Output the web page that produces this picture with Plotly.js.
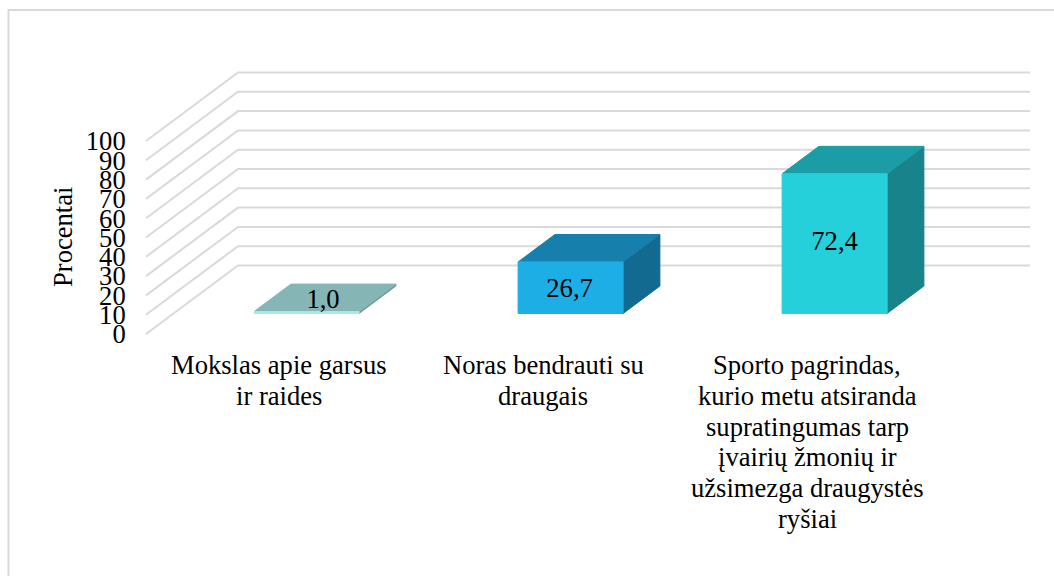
<!DOCTYPE html>
<html>
<head>
<meta charset="utf-8">
<script src="https://cdn.plot.ly/plotly-3.0.1.min.js"></script>
<style>html,body{margin:0;padding:0;background:#fff}#chart{width:1054px;height:576px}</style>
</head>
<body>
<div id="chart"></div>
<script>
const categoryLines = [
  ["Mokslas apie garsus", "ir raides"],
  ["Noras bendrauti su", "draugais"],
  ["Sporto pagrindas,", "kurio metu atsiranda", "supratingumas tarp", "įvairių žmonių ir", "užsimezga draugystės", "ryšiai"]
];
const values = [1.0, 26.7, 72.4];
const valueLabels = ["1,0", "26,7", "72,4"];
const frontColors = ["#a5e8e8", "#1eaee6", "#26d0da"];
const topColors = ["#85b5b5", "#167fac", "#1c9da5"];
const sideColors = ["#6f9c9c", "#126a90", "#18838a"];
const yTicks = [0, 10, 20, 30, 40, 50, 60, 70, 80, 90, 100];

const pxPerCat = 264, pxPerVal = 1.93;
const depthX = 92 / pxPerCat, depthY = 68.5 / pxPerVal;
const barWidth = 105 / pxPerCat, barFront = 0.3, barBack = 0.7, barShift = 1 / pxPerCat;
const labelDepth = [0.5, 0.3, 0.3];
const labelNudgeX = [-2, -1, 0], labelNudgeY = [-3, -3, 0];
const serif = "Liberation Serif, Times New Roman, serif";
const fs = 26.6;

const px = (x, d) => x + d * depthX;
const py = (v, d) => v + d * depthY;

function face(points, color) {
  return {
    type: "scatter", mode: "lines", fill: "toself", fillcolor: color,
    x: points.map(p => px(p[0], p[2])),
    y: points.map(p => py(p[1], p[2])),
    line: {color: color, width: 1},
    cliponaxis: false, hoverinfo: "skip", showlegend: false
  };
}

const traces = [];
yTicks.forEach(v => traces.push({
  type: "scatter", mode: "lines",
  x: [px(0, 0), px(0, 1), px(3, 1)],
  y: [py(v, 0), py(v, 1), py(v, 1)],
  line: {color: "#d9d9d9", width: 2},
  cliponaxis: false, hoverinfo: "skip", showlegend: false
}));
values.forEach((v, i) => {
  const l = i + 0.5 + barShift - barWidth / 2, r = i + 0.5 + barShift + barWidth / 2;
  traces.push(face([[r,0,barFront],[r,0,barBack],[r,v,barBack],[r,v,barFront],[r,0,barFront]], sideColors[i]));
  traces.push(face([[l,v,barFront],[r,v,barFront],[r,v,barBack],[l,v,barBack],[l,v,barFront]], topColors[i]));
  traces.push(face([[l,0,barFront],[r,0,barFront],[r,v,barFront],[l,v,barFront],[l,0,barFront]], frontColors[i]));
});
traces.push({
  type: "scatter", mode: "text",
  x: values.map((v, i) => px(i + 0.5 + barShift, labelDepth[i]) + labelNudgeX[i] / pxPerCat),
  y: values.map((v, i) => py(v / 2, labelDepth[i]) + labelNudgeY[i] / pxPerVal),
  text: valueLabels, textposition: "middle center",
  textfont: {family: serif, size: fs, color: "#000"},
  cliponaxis: false, hoverinfo: "skip", showlegend: false
});

// Category labels: one annotation per line, to hold the reference's line pitch
const plotBottom = 337, plotHeight = 267, firstLinePx = 365, linePitchPx = 30.8;
const annotations = [];
categoryLines.forEach((lines, i) => lines.forEach((t, j) => annotations.push({
  xref: "x", yref: "paper", x: i + 0.5 + barShift,
  y: (plotBottom - firstLinePx - j * linePitchPx) / plotHeight,
  text: t, showarrow: false, xanchor: "center", yanchor: "middle",
  font: {family: serif, size: fs, color: "#000"}
})));
annotations.push({
  xref: "paper", yref: "paper", x: (63 - 144) / 888, y: (plotBottom - 237) / plotHeight,
  text: "Procentai", textangle: -90, showarrow: false, xanchor: "center", yanchor: "middle",
  font: {family: serif, size: fs, color: "#000"}
});

const layout = {
  width: 1054, height: 576, showlegend: false,
  margin: {l: 144, r: 22, t: 70, b: 239, pad: 0},
  paper_bgcolor: "#fff", plot_bgcolor: "rgba(0,0,0,0)",
  xaxis: {
    range: [-2 / pxPerCat, 886 / pxPerCat],
    showticklabels: false, ticks: "",
    showgrid: false, zeroline: false, showline: false, automargin: false
  },
  yaxis: {
    range: [-3 / pxPerVal, 264 / pxPerVal], tickmode: "array", tickvals: yTicks,
    showgrid: false, zeroline: false, showline: false, automargin: false,
    ticks: "outside", ticklen: 12, tickcolor: "rgba(0,0,0,0)",
    tickfont: {family: serif, size: fs, color: "#000"}
  },
  annotations: annotations,
  shapes: [{
    type: "rect", xref: "paper", yref: "paper", layer: "below",
    x0: (8.5 - 144) / 888, x1: (1070 - 144) / 888, y0: (337 - 600) / 267, y1: (337 - 10) / 267,
    line: {color: "#d9d9d9", width: 2}, fillcolor: "rgba(0,0,0,0)"
  }]
};
Plotly.newPlot("chart", traces, layout, {displayModeBar: false, staticPlot: true});
</script>
</body>
</html>
